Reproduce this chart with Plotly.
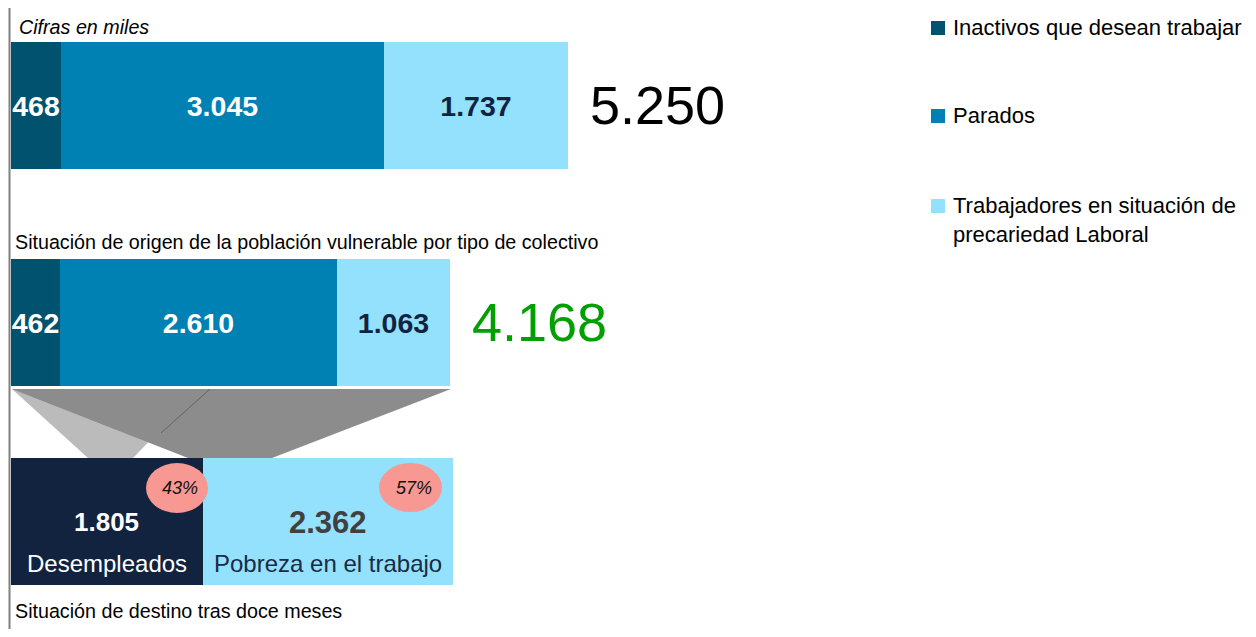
import plotly.graph_objects as go

# ---------------- data ----------------
series_names = ["Inactivos que desean trabajar", "Parados",
                "Trabajadores en situación de precariedad Laboral"]
legend_labels = ["Inactivos que desean trabajar", "Parados",
                 "Trabajadores en situación de<br>precariedad Laboral"]
poblacion_total = [468, 3045, 1737]          # top bar
poblacion_vulnerable = [462, 2610, 1063]     # second bar
destino_names = ["Desempleados", "Pobreza en el trabajo"]
destino_values = [1805, 2362]
totales = [5250, 4168]

# ---------------- styles / layout constants ----------------
OFF = 8                    # page body margin
W, H = 1256 - OFF, 637 - 2 * OFF
FONT = "Liberation Sans, Arial, sans-serif"
series_colors = ["#00526f", "#0081b3", "#94e1fd"]
series_text_colors = ["white", "white", "#12233f"]
destino_colors = ["#12233f", "#94e1fd"]
destino_value_colors = ["white", "#404040"]
destino_name_colors = ["white", "#1a2b45"]
total_colors = ["black", "#00a000"]

X0_PX = 11                 # screen pixel position of value 0
SCALE = 557 / 5250         # pixels per unit
BAR_Y = [105.5, 322.5, 521.5]
BAR_H = 127


def px(x):
    return (x - OFF) / W


def py(y):
    return 1 - (y - OFF) / H


def ux(xpix):
    """screen pixel -> data x"""
    return (xpix - X0_PX) / SCALE


fig = go.Figure()

for i, name in enumerate(series_names):
    fig.add_trace(go.Bar(
        x=[poblacion_total[i], poblacion_vulnerable[i]],
        y=BAR_Y[:2],
        orientation="h",
        width=BAR_H,
        name=name,
        marker=dict(color=series_colors[i], line=dict(width=0)),
        texttemplate="%{x:,.0f}",
        textposition="inside",
        insidetextanchor="middle",
        textangle=0,
        constraintext="none",
        textfont=dict(family=FONT, size=28.5, color=series_text_colors[i], weight="bold"),
        showlegend=False,
        hoverinfo="skip",
    ))

for i, name in enumerate(destino_names):
    fig.add_trace(go.Bar(
        x=[destino_values[i]],
        y=[BAR_Y[2]],
        orientation="h",
        width=BAR_H,
        name=name,
        marker=dict(color=destino_colors[i], line=dict(width=0)),
        showlegend=False,
        hoverinfo="skip",
    ))

annotations = []
shapes = []

# destination labels
dest_sum = sum(destino_values)
cum = 0
for i, v in enumerate(destino_values):
    mid = cum + v / 2
    annotations.append(dict(x=mid, y=522, xref="x", yref="y", showarrow=False,
                            xanchor="center", yanchor="middle",
                            text="<b>%s</b>" % format(v, ",").replace(",", "."),
                            font=dict(family=FONT, size=26 if i == 0 else 31,
                                      color=destino_value_colors[i])))
    annotations.append(dict(x=mid, y=563, xref="x", yref="y", showarrow=False,
                            xanchor="center", yanchor="middle",
                            text=destino_names[i],
                            font=dict(family=FONT, size=24, color=destino_name_colors[i])))
    cum += v

# percentage bubbles
bubbles = [(146, 208, 463, 513), (379, 442, 463, 512)]
for i, v in enumerate(destino_values):
    x0, x1, y0, y1 = bubbles[i]
    shapes.append(dict(type="circle", xref="paper", yref="paper",
                       x0=px(x0), x1=px(x1), y0=py(y1), y1=py(y0),
                       fillcolor="#f89893", line=dict(width=0), layer="above"))
    annotations.append(dict(x=px((x0 + x1) / 2 + 3), y=py((y0 + y1) / 2), xref="paper", yref="paper",
                            xanchor="center", yanchor="middle",
                            showarrow=False, text="<i>%d%%</i>" % round(100 * v / dest_sum),
                            font=dict(family=FONT, size=18, color="#111111")))

# totals
for i, t in enumerate(totales):
    bar_total = sum(poblacion_total) if i == 0 else sum(poblacion_vulnerable)
    annotations.append(dict(x=bar_total, y=BAR_Y[i] - 1, xref="x", yref="y", showarrow=False,
                            xanchor="left", yanchor="middle", xshift=20,
                            text=format(t, ",").replace(",", "."),
                            font=dict(family=FONT, size=54, color=total_colors[i])))

# section labels
section = [
    dict(x=px(17), y=py(27), text="<i>Cifras en miles</i>"),
    dict(x=px(13), y=py(242), text="Situación de origen de la población vulnerable por tipo de colectivo"),
    dict(x=px(13), y=py(611), text="Situación de destino tras doce meses"),
]
for a in section:
    a.update(xref="paper", yref="paper", xanchor="left", yanchor="middle", showarrow=False,
             font=dict(family=FONT, size=19.7, color="black"))
annotations += section

# funnel
light = [(12, 389), (200, 389), (133, 458), (88, 458)]
dark = [(12, 389), (451, 389), (272, 458), (188, 458)]
for poly, col in [(light, "#bbbbbb"), (dark, "#8c8c8c")]:
    path = "M " + " L ".join("%f,%f" % (px(a), py(b)) for a, b in poly) + " Z"
    shapes.append(dict(type="path", xref="paper", yref="paper", path=path,
                       fillcolor=col, line=dict(width=0), layer="below"))
shapes.append(dict(type="line", xref="paper", yref="paper", x0=px(210), y0=py(389),
                   x1=px(161), y1=py(433), line=dict(color="#5a5a5a", width=0.8)))

# vertical axis line
shapes.append(dict(type="line", xref="paper", yref="paper", x0=px(9.5), x1=px(9.5),
                   y0=py(OFF), y1=py(OFF + H), line=dict(color="#808080", width=2)))

# legend
legend_y = [28, 116, 206]
for i, lab in enumerate(legend_labels):
    y = legend_y[i]
    shapes.append(dict(type="rect", xref="paper", yref="paper",
                       x0=px(931), x1=px(945), y0=py(y + 7), y1=py(y - 7),
                       fillcolor=series_colors[i], line=dict(width=0)))
    annotations.append(dict(x=px(951), y=py(y - 15), xref="paper", yref="paper",
                            xanchor="left", yanchor="top", align="left", showarrow=False,
                            text=lab, font=dict(family=FONT, size=22, color="black")))

fig.update_layout(
    width=W, height=H,
    margin=dict(l=0, r=0, t=0, b=0),
    barmode="stack",
    bargap=0,
    separators=",.",
    paper_bgcolor="white",
    plot_bgcolor="white",
    xaxis=dict(range=[ux(OFF), ux(OFF + W)], visible=False, fixedrange=True),
    yaxis=dict(range=[OFF + H, OFF], visible=False, fixedrange=True),
    showlegend=False,
    annotations=annotations,
    shapes=shapes,
    font=dict(family=FONT),
)

fig.write_html("out.html")
